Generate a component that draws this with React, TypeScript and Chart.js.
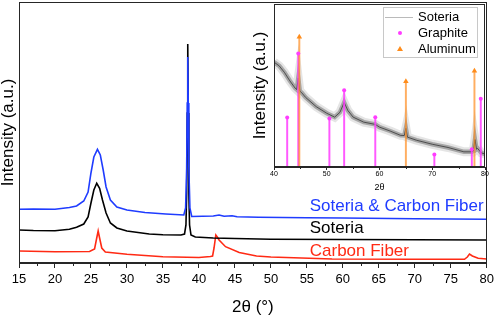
import React, { useEffect, useRef } from 'react';
import { Chart, registerables } from 'chart.js';

Chart.register(...registerables);

const FONT = '"Liberation Sans", Arial, Helvetica, sans-serif';

// ---------- main chart data (intensity in arbitrary units) ----------
const SCF_X = [15, 17, 20, 22, 23, 24, 24.6, 25.0, 25.4, 25.9, 26.3, 26.7, 27.1, 27.7, 28.6, 30.0, 32.5, 35.4, 37.9, 38.15, 38.3, 38.38, 38.45, 38.52, 38.6, 38.75, 39.0, 40.5, 42.0, 42.8, 43.5, 44.6, 45.3, 48.3, 55, 60, 70, 80];
const SCF_Y = [53.7, 54, 53.7, 55.5, 57, 62, 71, 90, 106, 113.7, 108, 93, 76, 63, 56, 53, 50.5, 49, 48, 55, 95, 160, 206, 160, 95, 55, 46.5, 46.8, 47, 48, 46.7, 47.3, 46.2, 45.7, 45.3, 45, 44.3, 43.7];

const SOT_X = [15, 17, 20, 22, 23, 24, 24.6, 25.0, 25.4, 25.8, 26.2, 26.6, 27.1, 27.7, 28.6, 30.0, 33.1, 35, 37.5, 38.0, 38.2, 38.3, 38.38, 38.45, 38.52, 38.6, 38.7, 38.9, 39.5, 42, 45, 50, 60, 70, 80];
const SOT_Y = [33, 32.5, 32.3, 33.7, 35.7, 39, 46, 60, 73, 79.7, 74.7, 63, 50, 40, 35, 32, 29, 28.3, 28, 29, 38, 70, 150, 219, 150, 70, 38, 28, 26, 25, 24.5, 23.8, 23.5, 23.2, 23];

const CF_X = [15, 20, 24.8, 25.5, 25.8, 26.0, 26.2, 26.5, 27, 30, 35, 40, 41.6, 41.9, 42.1, 42.35, 42.6, 42.8, 43.7, 45.6, 48, 50, 58.5, 70, 76.9, 77.3, 77.6, 78.0, 78.8, 80];
const CF_Y = [12, 11.3, 11.5, 14, 25, 32, 25, 15, 11, 8.7, 6.3, 5.5, 6.5, 7, 15, 28, 25.5, 23, 16.3, 10.5, 7, 6, 4, 3.7, 3.7, 6, 9, 7, 4.7, 4];

const MAIN_SERIES = ['Soteria & Carbon Fiber', 'Soteria', 'Carbon Fiber'];
const MAIN_TICK_STEP = 5;

// ---------- inset data ----------
const INSET_X = [40, 41, 42, 43, 44, 44.3, 44.6, 44.9, 45.2, 46, 48, 50, 51.5, 52.5, 53.3, 54, 55, 57, 59.2, 60, 62, 64, 64.7, 65.0, 65.3, 67, 70, 73, 76, 77.5, 77.8, 78.1, 78.4, 78.6, 79.3, 80];
const INSET_Y = [65, 62.6, 58.5, 53.4, 48.9, 48, 55, 47, 46.2, 43.1, 37.4, 33.3, 30.9, 33.9, 40, 35, 30.9, 27.8, 26.4, 24.7, 22.3, 19.6, 19.5, 24, 18.5, 16.6, 14.1, 12.1, 9.4, 9.4, 10, 17, 11, 11.5, 8.8, 8];

const GRAPHITE_X = [42.5, 44.6, 50.5, 53.3, 59.2, 70.4, 77.5, 79.2];
const GRAPHITE_Y = [30.7, 70.4, 30, 47.6, 30.9, 7.8, 11, 42.3];

const ALUMINUM_X = [44.8, 65.0, 78.0];
const ALUMINUM_Y = [80.6, 53, 59.5];

const INSET_SERIES = ['Soteria', 'Graphite', 'Aluminum'];
const INSET_TICK_STEP = 10;

// ---------- styles ----------
const COLORS = {
  scf: '#1f3cff',
  sot: '#000000',
  cf: '#ff2a14',
  frame: '#262626',
  graphite: '#ff3cff',
  graphiteStem: 'rgba(255,60,255,0.85)',
  aluminum: '#ff8c1a',
  aluminumStem: 'rgba(255,140,30,0.7)',
};

// label anchors in data coordinates (layout only)
const LABEL_ANCHORS = [
  { x: 55.4, y: 52 },
  { x: 55.4, y: 30 },
  { x: 55.4, y: 7 },
];

const pts = (xs: number[], ys: number[]) => xs.map((x, i) => ({ x, y: ys[i] }));

const framePlugin = {
  id: 'frame',
  afterDraw(chart: any) {
    const { ctx, chartArea } = chart;
    const l = Math.round(chartArea.left) + 0.5;
    const t = Math.round(chartArea.top) + 0.5;
    const r = Math.round(chartArea.right) - 0.5;
    const b = Math.round(chartArea.bottom) - 0.5;
    ctx.save();
    ctx.strokeStyle = COLORS.frame;
    ctx.lineWidth = 1;
    ctx.strokeRect(l, t, r - l, b - t);
    ctx.restore();
  },
};

const makeMinorTicks = (len: number) => ({
  id: 'minorTicks',
  afterDraw(chart: any) {
    const s = chart.scales.x;
    const ticks = s.ticks;
    const ctx = chart.ctx;
    ctx.save();
    ctx.strokeStyle = COLORS.frame;
    ctx.lineWidth = 1;
    for (let i = 0; i < ticks.length - 1; i++) {
      const mid = (ticks[i].value + ticks[i + 1].value) / 2;
      const px = Math.round(s.getPixelForValue(mid)) + 0.5;
      ctx.beginPath();
      ctx.moveTo(px, s.top);
      ctx.lineTo(px, s.top + len);
      ctx.stroke();
    }
    ctx.restore();
  },
});

const seriesLabelPlugin = {
  id: 'seriesLabels',
  afterDatasetsDraw(chart: any) {
    const { ctx, scales } = chart;
    ctx.save();
    ctx.font = `17px ${FONT}`;
    ctx.textAlign = 'left';
    ctx.textBaseline = 'alphabetic';
    chart.data.datasets.forEach((ds: any, i: number) => {
      const a = LABEL_ANCHORS[i];
      if (!a) return;
      ctx.fillStyle = ds.borderColor;
      ctx.fillText(ds.label, scales.x.getPixelForValue(a.x), scales.y.getPixelForValue(a.y));
    });
    ctx.restore();
  },
};

const insetLegendPlugin = {
  id: 'insetLegend',
  afterDraw(chart: any) {
    const { ctx } = chart;
    const bx = 133.5, by = 7.5, bw = 94, bh = 50;
    ctx.save();
    ctx.fillStyle = 'rgba(255,255,255,0.9)';
    ctx.fillRect(bx, by, bw, bh);
    ctx.strokeStyle = '#c8c8c8';
    ctx.lineWidth = 1;
    ctx.strokeRect(bx, by, bw, bh);
    ctx.font = `13px ${FONT}`;
    ctx.textBaseline = 'middle';
    ctx.textAlign = 'left';
    const rows = [17, 33, 49];
    INSET_SERIES.forEach((name, i) => {
      const y = rows[i];
      if (i === 0) {
        ctx.strokeStyle = 'rgba(140,140,140,0.6)';
        ctx.lineWidth = 1;
        ctx.beginPath();
        ctx.moveTo(135, y + 0.5);
        ctx.lineTo(163, y + 0.5);
        ctx.stroke();
      } else if (i === 1) {
        ctx.fillStyle = COLORS.graphite;
        ctx.beginPath();
        ctx.arc(150, y, 2, 0, Math.PI * 2);
        ctx.fill();
      } else {
        ctx.fillStyle = COLORS.aluminum;
        ctx.beginPath();
        ctx.moveTo(150, y - 3);
        ctx.lineTo(153, y + 2);
        ctx.lineTo(147, y + 2);
        ctx.closePath();
        ctx.fill();
      }
      ctx.fillStyle = '#000';
      ctx.fillText(name, 168, y);
    });
    ctx.restore();
  },
};

export default function App() {
  const mainRef = useRef<HTMLCanvasElement | null>(null);
  const insetRef = useRef<HTMLCanvasElement | null>(null);

  useEffect(() => {
    if (!mainRef.current || !insetRef.current) return;

    const line = (label: string, data: any, color: string, order: number) => ({
      type: 'line' as const,
      label,
      data,
      borderColor: color,
      backgroundColor: color,
      borderWidth: 1.6,
      pointRadius: 0,
      tension: 0,
      fill: false,
      order,
    });

    const main = new Chart(mainRef.current, {
      type: 'line',
      data: {
        datasets: [
          line(MAIN_SERIES[0], pts(SCF_X, SCF_Y), COLORS.scf, 1),
          line(MAIN_SERIES[1], pts(SOT_X, SOT_Y), COLORS.sot, 2),
          line(MAIN_SERIES[2], pts(CF_X, CF_Y), COLORS.cf, 3),
        ],
      },
      options: {
        animation: false,
        responsive: false,
        layout: { padding: { top: 2, right: 8.5, left: 0, bottom: 0 } },
        plugins: { legend: { display: false }, tooltip: { enabled: false } },
        scales: {
          x: {
            type: 'linear',
            min: 15,
            max: 80,
            offset: false,
            ticks: { stepSize: MAIN_TICK_STEP, color: '#000', font: { family: FONT, size: 13 }, padding: 4, maxRotation: 0 },
            grid: { drawOnChartArea: false, tickLength: 5, tickColor: COLORS.frame, tickWidth: 1 },
            border: { color: COLORS.frame },
            title: { display: true, text: '2θ (°)', color: '#000', font: { family: FONT, size: 17, lineHeight: 1 }, padding: { top: 0, bottom: 0.5 } },
            afterFit: (s: any) => { s.height = 53; },
          },
          y: {
            type: 'linear',
            min: 0,
            max: 261,
            ticks: { display: false },
            grid: { display: false },
            border: { display: false },
            title: { display: true, text: 'Intensity (a.u.)', color: '#000', font: { family: FONT, size: 17, lineHeight: 1 }, padding: 0 },
            afterFit: (s: any) => { s.width = 19; },
          },
        },
      },
      plugins: [framePlugin, makeMinorTicks(3), seriesLabelPlugin],
    } as any);

    const inset = new Chart(insetRef.current, {
      type: 'line',
      data: {
        datasets: [
          { type: 'scatter', label: 'GraphiteHeads', data: pts(GRAPHITE_X, GRAPHITE_Y), pointStyle: 'circle', pointRadius: 2, pointBorderWidth: 0, backgroundColor: COLORS.graphite, borderColor: COLORS.graphite, order: 1 },
          { type: 'scatter', label: 'AluminumHeads', data: pts(ALUMINUM_X, ALUMINUM_Y), pointStyle: 'triangle', pointRadius: 3.2, pointBorderWidth: 0, backgroundColor: COLORS.aluminum, borderColor: COLORS.aluminum, order: 1 },
          { type: 'bar', label: 'Aluminum', data: pts(ALUMINUM_X, ALUMINUM_Y), backgroundColor: COLORS.aluminumStem, barThickness: 1.3, grouped: false, order: 3 },
          { type: 'bar', label: 'Graphite', data: pts(GRAPHITE_X, GRAPHITE_Y), backgroundColor: COLORS.graphiteStem, barThickness: 1.3, grouped: false, order: 4 },
          { type: 'line', label: 'Soteria', data: pts(INSET_X, INSET_Y), borderColor: 'rgba(40,40,40,0.7)', borderWidth: 1, pointRadius: 0, tension: 0, order: 6 },
          { type: 'line', label: 'SoteriaBandInner', data: pts(INSET_X, INSET_Y), borderColor: 'rgba(0,0,0,0.28)', borderWidth: 4.5, pointRadius: 0, tension: 0, order: 7 },
          { type: 'line', label: 'SoteriaBand', data: pts(INSET_X, INSET_Y), borderColor: 'rgba(0,0,0,0.1)', borderWidth: 9, pointRadius: 0, tension: 0, order: 8 },
        ],
      },
      options: {
        animation: false,
        responsive: false,
        layout: { padding: { top: 2.5, right: 10, left: 0, bottom: 0 } },
        plugins: { legend: { display: false }, tooltip: { enabled: false } },
        scales: {
          x: {
            type: 'linear',
            min: 40,
            max: 80,
            offset: false,
            ticks: { stepSize: INSET_TICK_STEP, color: '#000', font: { family: FONT, size: 7 }, padding: 0, maxRotation: 0 },
            grid: { drawOnChartArea: false, offset: false, tickLength: 3, tickColor: COLORS.frame, tickWidth: 1 },
            border: { color: COLORS.frame },
            title: { display: true, text: '2θ', color: '#000', font: { family: FONT, size: 9, lineHeight: 1 }, padding: { top: 0, bottom: 3.5 } },
            afterFit: (s: any) => { s.height = 29; },
          },
          y: {
            type: 'linear',
            min: 0,
            max: 101,
            ticks: { display: false },
            grid: { display: false },
            border: { display: false },
            title: { display: true, text: 'Intensity (a.u.)', color: '#000', font: { family: FONT, size: 17, lineHeight: 1 }, padding: { top: 1.5, bottom: 0 } },
            afterFit: (s: any) => { s.width = 24; },
          },
        },
      },
      plugins: [framePlugin, makeMinorTicks(2), insetLegendPlugin],
    } as any);

    return () => {
      main.destroy();
      inset.destroy();
    };
  }, []);

  return (
    <div style={{ position: 'fixed', left: 0, top: 0, width: 498, height: 316, background: '#fff', overflow: 'hidden' }}>
      <canvas ref={mainRef} width={498} height={316} style={{ position: 'absolute', left: 0, top: 0 }} />
      <canvas ref={insetRef} width={245} height={196} style={{ position: 'absolute', left: 250, top: 0 }} />
    </div>
  );
}
